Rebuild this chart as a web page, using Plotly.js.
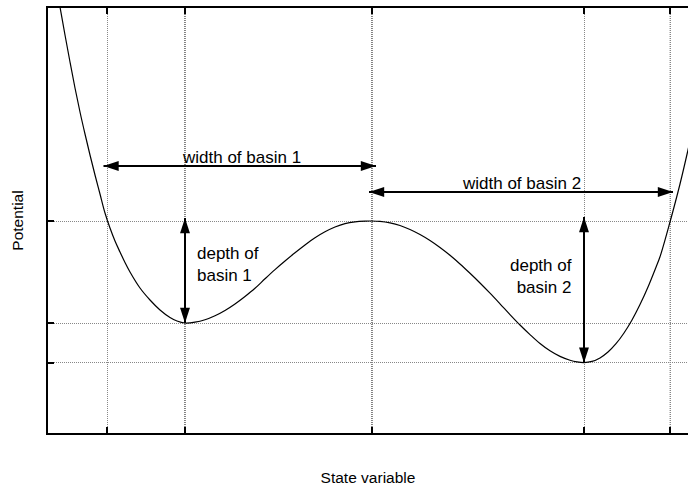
<!DOCTYPE html>
<html><head><meta charset="utf-8">
<script src="https://cdn.plot.ly/plotly-3.0.1.min.js"></script>
<style>html,body{margin:0;padding:0;overflow:hidden;background:#fff}#chart{width:688px;height:486px}</style>
</head><body><div id="chart"></div>
<script>
// Potential curve
const curveX = [0.08, 0.13, 0.18, 0.23, 0.28, 0.33, 0.38, 0.43, 0.48, 0.53, 0.58, 0.63, 0.68, 0.73, 0.78, 0.83, 0.93, 1.03, 1.13, 1.23, 1.30, 1.38,
  1.48, 1.58, 1.68, 1.78, 1.88, 1.98, 2.08, 2.18, 2.28, 2.38, 2.48, 2.58, 2.68, 2.78, 2.88, 2.98, 3.08, 3.18, 3.25,
  3.33, 3.43, 3.53, 3.63, 3.73, 3.83, 3.93, 4.03, 4.13, 4.23, 4.33, 4.43, 4.53, 4.63, 4.73, 4.83, 4.93, 5.03, 5.13, 5.23, 5.30, 5.37,
  5.45, 5.53, 5.61, 5.69, 5.77, 5.85, 5.93, 6.01, 6.09, 6.13, 6.23, 6.33, 6.41, 6.47];
const curveY = [4.55, 4.27, 3.99, 3.72, 3.46, 3.22, 3.00, 2.79, 2.59, 2.40, 2.21, 2.06, 1.93, 1.82, 1.715, 1.62, 1.46, 1.34, 1.24, 1.165, 1.13, 1.11,
  1.118, 1.142, 1.182, 1.235, 1.30, 1.375, 1.457, 1.552, 1.644, 1.73, 1.812, 1.89, 1.962, 2.022, 2.07, 2.104, 2.122, 2.129, 2.13,
  2.126, 2.111, 2.085, 2.045, 1.995, 1.935, 1.865, 1.787, 1.70, 1.607, 1.51, 1.408, 1.302, 1.194, 1.09, 0.994, 0.905, 0.832, 0.776, 0.738, 0.721, 0.714,
  0.726, 0.761, 0.82, 0.903, 1.01, 1.14, 1.294, 1.47, 1.668, 1.772, 2.12, 2.50, 2.84, 3.11];

// Tick / grid positions
const gridX = [0.60, 1.38, 3.25, 5.37, 6.233];
const gridY = [0.714, 1.11, 2.13];
const darkGridX = [1.38, 3.25, 6.233];

// Arrows
const width1X = [0.565, 3.29], width1Y = [2.68, 2.68];
const width2X = [3.22, 6.26], width2Y = [2.42, 2.42];
const depth1X = [1.38, 1.38], depth1Y = [2.16, 1.11];
const depth2X = [5.37, 5.37], depth2Y = [2.17, 0.712];

// Labels
const labelText = ['width of basin 1', 'width of basin 2', 'depth of<br>basin 1', 'depth of<br>basin 2'];
const labelX = [1.94, 4.74, 1.48, 5.27];
const labelY = [2.77, 2.51, 1.70, 1.575];
const labelAnchor = ['center', 'center', 'left', 'right'];

const FONT = '"Liberation Sans", Arial, Helvetica, sans-serif';

function arrowTrace(xs, ys, angles) {
  return {
    x: xs, y: ys, type: 'scatter', mode: 'lines+markers',
    line: {color: '#000', width: 2},
    marker: {symbol: 'arrow', size: 16, color: '#000', angle: angles, line: {width: 0}},
    hoverinfo: 'skip', showlegend: false, cliponaxis: false
  };
}

const traces = [
  {x: curveX, y: curveY, type: 'scatter', mode: 'lines',
   line: {color: '#000', width: 1.2, shape: 'spline', smoothing: 1},
   hoverinfo: 'skip', showlegend: false},
  arrowTrace(width1X, width1Y, [-90, 90]),
  arrowTrace(width2X, width2Y, [-90, 90]),
  arrowTrace(depth1X, depth1Y, [0, 180]),
  arrowTrace(depth2X, depth2Y, [0, 180])
];

const annotations = labelText.map((t, i) => ({
  x: labelX[i], y: labelY[i], xref: 'x', yref: 'y', text: t, showarrow: false,
  xanchor: labelAnchor[i], yanchor: 'middle', align: labelAnchor[i],
  font: {family: FONT, size: 17, color: '#000'}
}));

const shapes = darkGridX.map(v => ({
  type: 'line', xref: 'x', yref: 'paper', x0: v, x1: v, y0: 0, y1: 1,
  line: {color: '#000', width: 1, dash: '1px,1px'}, layer: 'below'
}));

const layout = {
  width: 688, height: 486,
  margin: {l: 48, r: 0, t: 8, b: 53},
  paper_bgcolor: '#fff', plot_bgcolor: '#fff',
  font: {family: FONT, size: 15.5, color: '#000'},
  showlegend: false,
  xaxis: {
    range: [0.01, 6.41], tickmode: 'array', tickvals: gridX, showticklabels: false,
    ticks: 'inside', ticklen: 6, tickwidth: 2, tickcolor: '#000',
    showgrid: true, gridcolor: '#888', gridwidth: 1, griddash: '1px,1px',
    showline: true, linecolor: '#000', linewidth: 2, mirror: 'ticks', zeroline: false,
    title: {text: 'State variable', font: {family: FONT, size: 15.5}, standoff: 39}
  },
  yaxis: {
    range: [0.01, 4.26], tickmode: 'array', tickvals: gridY, showticklabels: false,
    ticks: 'inside', ticklen: 6, tickwidth: 2, tickcolor: '#000',
    showgrid: true, gridcolor: '#888', gridwidth: 1, griddash: '1px,1px',
    showline: true, linecolor: '#000', linewidth: 2, mirror: false, zeroline: false,
    title: {text: 'Potential', font: {family: FONT, size: 15.5}, standoff: 19}
  },
  annotations: annotations,
  shapes: shapes
};

Plotly.newPlot('chart', traces, layout, {staticPlot: true, displayModeBar: false});
</script></body></html>
